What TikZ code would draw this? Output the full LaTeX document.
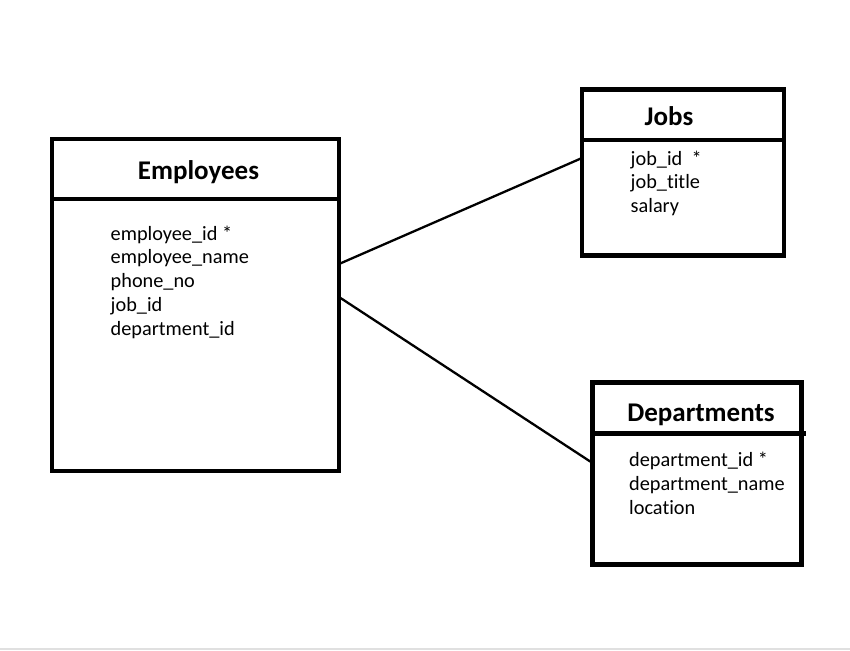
\documentclass[tikz,border=0pt]{standalone}
\usepackage{fontspec}
\setmainfont{Carlito}[Ligatures=NoCommon]
\usetikzlibrary{matrix,positioning}
\tikzset{
tblbox/.style={
  draw=black,
  line width=4.5pt,
  outer sep=0pt,
  inner sep=0pt
  },
tbltitle/.style={
  font=\fontsize{27}{30}\selectfont\bfseries,
  anchor=base,
  inner sep=0pt
  },
fieldmat/.style={
  matrix of nodes,
  anchor=north west,
  inner sep=0pt,
  row sep=0pt,
  nodes={anchor=base west,inner sep=0pt,
    text height=16.7pt,text depth=7pt,
    font=\fontsize{20.3}{24}\selectfont}
  },
link/.style={line width=2.3pt}
}

\begin{document}
\begin{tikzpicture}[x=1pt,y=-1pt]
\useasboundingbox (0,0) rectangle (850,650);
\fill[black!12] (0,648) rectangle (850,650);

% Employees
\node[tblbox,minimum width=287pt,minimum height=332pt] (emp) at (195.5,305) {};
\draw[tblbox] ([yshift=-60pt]emp.north west) -- ([yshift=-60pt]emp.north east);
\node[tbltitle] (emptitle) at (198.5,179) {Employees};
\matrix[fieldmat] (empfields) at (110.5,223.3)
{
employee\_id *\\
employee\_name\\
phone\_no\\
job\_id\\
department\_id\\
};

% Jobs
\node[tblbox,minimum width=202pt,minimum height=166pt] (jobs) at (683,172.5) {};
\draw[tblbox] ([yshift=-50.5pt]jobs.north west) -- ([yshift=-50.5pt]jobs.north east);
\node[tbltitle] (jobstitle) at (669,125) {Jobs};
\matrix[fieldmat] (jobsfields) at (630.5,148.3)
{
job\_id\ \ *\\
job\_title\\
salary\\
};

% Departments
\node[tblbox,minimum width=209pt,minimum height=182pt] (dept) at (697,473.5) {};
\draw[tblbox] ([yshift=-51pt]dept.north west) -- ([yshift=-51pt,xshift=4.5pt]dept.north east);
\node[tbltitle] (depttitle) at (701,421.7) {Departments};
\matrix[fieldmat] (deptfields) at (629,450)
{
department\_id *\\
department\_name\\
location\\
};

% links
\draw[link] ([yshift=41pt]emp.east) -- ([yshift=14.5pt]jobs.west);
\draw[link] ([yshift=8pt]emp.east) -- ([yshift=10.5pt]dept.west);

\end{tikzpicture}
\end{document}
